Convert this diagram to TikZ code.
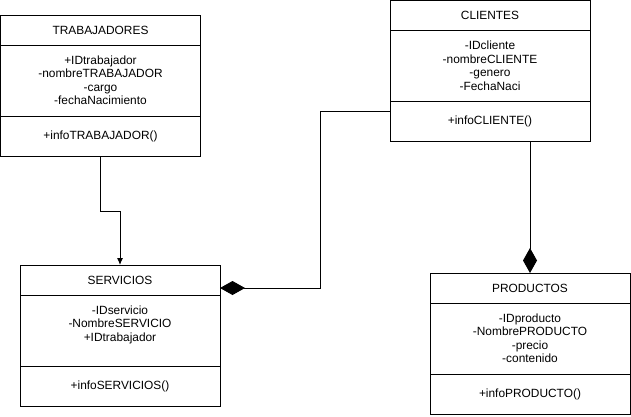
\documentclass[tikz,border=0pt]{standalone}
\usepackage{fontspec}
\setmainfont{Liberation Sans}
\usetikzlibrary{positioning,arrows.meta}

\tikzset{
  cls/.style={draw, line width=1pt, minimum width=200pt, inner sep=0pt, outer sep=0pt,
    font=\fontsize{11.9}{13.5}\selectfont},
  clshead/.style={cls, minimum height=30pt},
  clsattr/.style={cls, minimum height=71pt},
  clsop/.style={cls, minimum height=40pt},
  assoc/.style={line width=1pt, -{Latex[length=7pt,width=6pt]}},
  compo/.style={line width=1pt, {Diamond[length=25pt,width=14pt]}-}
}
\newcommand{\attrlist}[1]{\parbox[c][71pt][t]{200pt}{\centering\vspace*{10.5pt}#1}}

\begin{document}
\begin{tikzpicture}[x=1pt,y=-1pt]
\useasboundingbox (0,0) rectangle (631,416);

% TRABAJADORES
\node [clshead, anchor=north west] (trabhead) at (0.5,15) {TRABAJADORES};
\node [clsattr, below=0pt of trabhead] (trabattr)
  {\attrlist{+IDtrabajador\\-nombreTRABAJADOR\\-cargo\\-fechaNacimiento}};
\node [clsop, below=0pt of trabattr] (trabop) {+infoTRABAJADOR()};

% CLIENTES
\node [clshead, anchor=north west] (clihead) at (390,0.5) {CLIENTES};
\node [clsattr, below=0pt of clihead] (cliattr)
  {\attrlist{-IDcliente\\-nombreCLIENTE\\-genero\\-FechaNaci}};
\node [clsop, below=0pt of cliattr] (cliop) {+infoCLIENTE()};

% SERVICIOS
\node [clshead, anchor=north west] (servhead) at (20,265) {SERVICIOS};
\node [clsattr, below=0pt of servhead] (servattr)
  {\attrlist{-IDservicio\\-NombreSERVICIO\\+IDtrabajador}};
\node [clsop, below=0pt of servattr] (servop) {+infoSERVICIOS()};

% PRODUCTOS
\node [clshead, anchor=north west] (prodhead) at (430,273) {PRODUCTOS};
\node [clsattr, below=0pt of prodhead] (prodattr)
  {\attrlist{-IDproducto\\-NombrePRODUCTO\\-precio\\-contenido}};
\node [clsop, below=0pt of prodattr] (prodop) {+infoPRODUCTO()};

\coordinate (cliout) at ([yshift=-10pt]cliop.north west);
\coordinate (servin) at ([yshift=7pt]servhead.south east);

\draw [assoc] (trabop.south) -- ++(0,55) -| (servhead.north);
\draw [compo] (servin) -- ++(100,0) |- (cliout);
\draw [compo] (prodhead.north) -- (prodhead.north |- cliop.south);
\end{tikzpicture}
\end{document}
